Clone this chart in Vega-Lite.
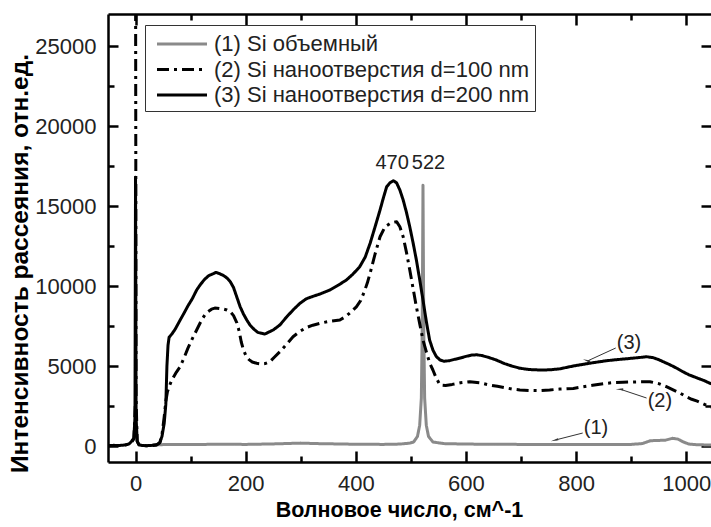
{
  "$schema": "https://vega.github.io/schema/vega-lite/v6.json",
  "width": 603,
  "height": 448,
  "autosize": {"type": "none"},
  "padding": {"left": 108, "top": 14, "right": 0, "bottom": 65},
  "background": "white",
  "config": {"view": {"stroke": null}, "font": "Liberation Sans"},
  "datasets": {
    "spec": [
      {"s": "(1) Si объемный", "seg": "a", "x": 30, "y": 50}, {"s": "(1) Si объемный", "seg": "a", "x": 45, "y": 80}, {"s": "(1) Si объемный", "seg": "a", "x": 60, "y": 100}, {"s": "(1) Si объемный", "seg": "a", "x": 100, "y": 90}, {"s": "(1) Si объемный", "seg": "a", "x": 150, "y": 110}, {"s": "(1) Si объемный", "seg": "a", "x": 200, "y": 100}, {"s": "(1) Si объемный", "seg": "a", "x": 250, "y": 130}, {"s": "(1) Si объемный", "seg": "a", "x": 300, "y": 180}, {"s": "(1) Si объемный", "seg": "a", "x": 330, "y": 150}, {"s": "(1) Si объемный", "seg": "a", "x": 400, "y": 110}, {"s": "(1) Si объемный", "seg": "a", "x": 450, "y": 100}, {"s": "(1) Si объемный", "seg": "a", "x": 480, "y": 120}, {"s": "(1) Si объемный", "seg": "a", "x": 498, "y": 180}, {"s": "(1) Si объемный", "seg": "a", "x": 505, "y": 250}, {"s": "(1) Si объемный", "seg": "a", "x": 512, "y": 600}, {"s": "(1) Si объемный", "seg": "a", "x": 516, "y": 1300}, {"s": "(1) Si объемный", "seg": "a", "x": 519, "y": 3000}, {"s": "(1) Si объемный", "seg": "a", "x": 520.5, "y": 7000}, {"s": "(1) Si объемный", "seg": "a", "x": 521.5, "y": 13000}, {"s": "(1) Si объемный", "seg": "a", "x": 522, "y": 16300}, {"s": "(1) Si объемный", "seg": "a", "x": 522.5, "y": 13000}, {"s": "(1) Si объемный", "seg": "a", "x": 523.5, "y": 7000}, {"s": "(1) Si объемный", "seg": "a", "x": 525, "y": 3000}, {"s": "(1) Si объемный", "seg": "a", "x": 528, "y": 1300}, {"s": "(1) Si объемный", "seg": "a", "x": 532, "y": 600}, {"s": "(1) Si объемный", "seg": "a", "x": 540, "y": 250}, {"s": "(1) Si объемный", "seg": "a", "x": 560, "y": 150}, {"s": "(1) Si объемный", "seg": "a", "x": 600, "y": 120}, {"s": "(1) Si объемный", "seg": "a", "x": 650, "y": 110}, {"s": "(1) Si объемный", "seg": "a", "x": 700, "y": 100}, {"s": "(1) Si объемный", "seg": "a", "x": 750, "y": 90}, {"s": "(1) Si объемный", "seg": "a", "x": 800, "y": 100}, {"s": "(1) Si объемный", "seg": "a", "x": 850, "y": 90}, {"s": "(1) Si объемный", "seg": "a", "x": 900, "y": 100}, {"s": "(1) Si объемный", "seg": "a", "x": 920, "y": 150}, {"s": "(1) Si объемный", "seg": "a", "x": 935, "y": 330}, {"s": "(1) Si объемный", "seg": "a", "x": 950, "y": 350}, {"s": "(1) Si объемный", "seg": "a", "x": 962, "y": 360}, {"s": "(1) Si объемный", "seg": "a", "x": 975, "y": 480}, {"s": "(1) Si объемный", "seg": "a", "x": 985, "y": 430}, {"s": "(1) Si объемный", "seg": "a", "x": 995, "y": 250}, {"s": "(1) Si объемный", "seg": "a", "x": 1005, "y": 120}, {"s": "(1) Si объемный", "seg": "a", "x": 1020, "y": 80}, {"s": "(1) Si объемный", "seg": "a", "x": 1045, "y": 60},

      {"s": "(2) Si наноотверстия d=100 nm", "seg": "a", "x": -50, "y": 20}, {"s": "(2) Si наноотверстия d=100 nm", "seg": "a", "x": -40, "y": 30}, {"s": "(2) Si наноотверстия d=100 nm", "seg": "a", "x": -30, "y": 30}, {"s": "(2) Si наноотверстия d=100 nm", "seg": "a", "x": -20, "y": 50}, {"s": "(2) Si наноотверстия d=100 nm", "seg": "a", "x": -12, "y": 120}, {"s": "(2) Si наноотверстия d=100 nm", "seg": "a", "x": -7, "y": 250}, {"s": "(2) Si наноотверстия d=100 nm", "seg": "a", "x": -3, "y": 450}, {"s": "(2) Si наноотверстия d=100 nm", "seg": "a", "x": -0.5, "y": 2500},
      {"s": "(2) Si наноотверстия d=100 nm", "seg": "b", "x": 0, "y": 32000}, {"s": "(2) Si наноотверстия d=100 nm", "seg": "b", "x": 1, "y": 3000}, {"s": "(2) Si наноотверстия d=100 nm", "seg": "b", "x": 3, "y": 300}, {"s": "(2) Si наноотверстия d=100 nm", "seg": "b", "x": 6, "y": 80}, {"s": "(2) Si наноотверстия d=100 nm", "seg": "b", "x": 12, "y": 30}, {"s": "(2) Si наноотверстия d=100 nm", "seg": "b", "x": 20, "y": 20}, {"s": "(2) Si наноотверстия d=100 nm", "seg": "b", "x": 30, "y": 30}, {"s": "(2) Si наноотверстия d=100 nm", "seg": "b", "x": 38, "y": 60}, {"s": "(2) Si наноотверстия d=100 nm", "seg": "b", "x": 44, "y": 200}, {"s": "(2) Si наноотверстия d=100 nm", "seg": "b", "x": 48, "y": 700}, {"s": "(2) Si наноотверстия d=100 nm", "seg": "b", "x": 52, "y": 1800}, {"s": "(2) Si наноотверстия d=100 nm", "seg": "b", "x": 55, "y": 2800}, {"s": "(2) Si наноотверстия d=100 nm", "seg": "b", "x": 58, "y": 3400}, {"s": "(2) Si наноотверстия d=100 nm", "seg": "b", "x": 62, "y": 3800}, {"s": "(2) Si наноотверстия d=100 nm", "seg": "b", "x": 66, "y": 4125}, {"s": "(2) Si наноотверстия d=100 nm", "seg": "b", "x": 73, "y": 4550}, {"s": "(2) Si наноотверстия d=100 nm", "seg": "b", "x": 81, "y": 4960}, {"s": "(2) Si наноотверстия d=100 nm", "seg": "b", "x": 88, "y": 5500}, {"s": "(2) Si наноотверстия d=100 nm", "seg": "b", "x": 95, "y": 6100}, {"s": "(2) Si наноотверстия d=100 nm", "seg": "b", "x": 103, "y": 6700}, {"s": "(2) Si наноотверстия d=100 nm", "seg": "b", "x": 111, "y": 7250}, {"s": "(2) Si наноотверстия d=100 nm", "seg": "b", "x": 120, "y": 7875}, {"s": "(2) Si наноотверстия d=100 nm", "seg": "b", "x": 126, "y": 8200}, {"s": "(2) Si наноотверстия d=100 nm", "seg": "b", "x": 132, "y": 8400}, {"s": "(2) Si наноотверстия d=100 nm", "seg": "b", "x": 138, "y": 8550}, {"s": "(2) Si наноотверстия d=100 nm", "seg": "b", "x": 144, "y": 8620}, {"s": "(2) Si наноотверстия d=100 nm", "seg": "b", "x": 152, "y": 8600}, {"s": "(2) Si наноотверстия d=100 nm", "seg": "b", "x": 160, "y": 8550}, {"s": "(2) Si наноотверстия d=100 nm", "seg": "b", "x": 166, "y": 8500}, {"s": "(2) Si наноотверстия d=100 nm", "seg": "b", "x": 172, "y": 8400}, {"s": "(2) Si наноотверстия d=100 nm", "seg": "b", "x": 178, "y": 8150}, {"s": "(2) Si наноотверстия d=100 nm", "seg": "b", "x": 184, "y": 7700}, {"s": "(2) Si наноотверстия d=100 nm", "seg": "b", "x": 188, "y": 7200}, {"s": "(2) Si наноотверстия d=100 nm", "seg": "b", "x": 192, "y": 6500}, {"s": "(2) Si наноотверстия d=100 nm", "seg": "b", "x": 196, "y": 6000}, {"s": "(2) Si наноотверстия d=100 nm", "seg": "b", "x": 201, "y": 5600}, {"s": "(2) Si наноотверстия d=100 nm", "seg": "b", "x": 206, "y": 5400}, {"s": "(2) Si наноотверстия d=100 nm", "seg": "b", "x": 212, "y": 5250}, {"s": "(2) Si наноотверстия d=100 nm", "seg": "b", "x": 220, "y": 5170}, {"s": "(2) Si наноотверстия d=100 nm", "seg": "b", "x": 228, "y": 5130}, {"s": "(2) Si наноотверстия d=100 nm", "seg": "b", "x": 235, "y": 5150}, {"s": "(2) Si наноотверстия d=100 nm", "seg": "b", "x": 244, "y": 5270}, {"s": "(2) Si наноотверстия d=100 nm", "seg": "b", "x": 252, "y": 5550}, {"s": "(2) Si наноотверстия d=100 nm", "seg": "b", "x": 262, "y": 5890}, {"s": "(2) Si наноотверстия d=100 nm", "seg": "b", "x": 274, "y": 6350}, {"s": "(2) Si наноотверстия d=100 nm", "seg": "b", "x": 286, "y": 6830}, {"s": "(2) Si наноотверстия d=100 nm", "seg": "b", "x": 298, "y": 7150}, {"s": "(2) Si наноотверстия d=100 nm", "seg": "b", "x": 310, "y": 7400}, {"s": "(2) Si наноотверстия d=100 nm", "seg": "b", "x": 322, "y": 7550}, {"s": "(2) Si наноотверстия d=100 nm", "seg": "b", "x": 335, "y": 7670}, {"s": "(2) Si наноотверстия d=100 nm", "seg": "b", "x": 353, "y": 7800}, {"s": "(2) Si наноотверстия d=100 nm", "seg": "b", "x": 371, "y": 7875}, {"s": "(2) Si наноотверстия d=100 nm", "seg": "b", "x": 382, "y": 8100}, {"s": "(2) Si наноотверстия d=100 nm", "seg": "b", "x": 392, "y": 8400}, {"s": "(2) Si наноотверстия d=100 nm", "seg": "b", "x": 401, "y": 8700}, {"s": "(2) Si наноотверстия d=100 nm", "seg": "b", "x": 409, "y": 9100}, {"s": "(2) Si наноотверстия d=100 nm", "seg": "b", "x": 416, "y": 9700}, {"s": "(2) Si наноотверстия d=100 nm", "seg": "b", "x": 421, "y": 10200}, {"s": "(2) Si наноотверстия d=100 nm", "seg": "b", "x": 426, "y": 10800}, {"s": "(2) Si наноотверстия d=100 nm", "seg": "b", "x": 435, "y": 12000}, {"s": "(2) Si наноотверстия d=100 nm", "seg": "b", "x": 444, "y": 13080}, {"s": "(2) Si наноотверстия d=100 nm", "seg": "b", "x": 453, "y": 13700}, {"s": "(2) Si наноотверстия d=100 nm", "seg": "b", "x": 462, "y": 13900}, {"s": "(2) Si наноотверстия d=100 nm", "seg": "b", "x": 468, "y": 13980}, {"s": "(2) Si наноотверстия d=100 nm", "seg": "b", "x": 474, "y": 14020}, {"s": "(2) Si наноотверстия d=100 nm", "seg": "b", "x": 480, "y": 13700}, {"s": "(2) Si наноотверстия d=100 nm", "seg": "b", "x": 486, "y": 13080}, {"s": "(2) Si наноотверстия d=100 nm", "seg": "b", "x": 492, "y": 12100}, {"s": "(2) Si наноотверстия d=100 nm", "seg": "b", "x": 498, "y": 11000}, {"s": "(2) Si наноотверстия d=100 nm", "seg": "b", "x": 504, "y": 9850}, {"s": "(2) Si наноотверстия d=100 nm", "seg": "b", "x": 510, "y": 8700}, {"s": "(2) Si наноотверстия d=100 nm", "seg": "b", "x": 516, "y": 7650}, {"s": "(2) Si наноотверстия d=100 nm", "seg": "b", "x": 522, "y": 6625}, {"s": "(2) Si наноотверстия d=100 nm", "seg": "b", "x": 528, "y": 5900}, {"s": "(2) Si наноотверстия d=100 nm", "seg": "b", "x": 534, "y": 5200}, {"s": "(2) Si наноотверстия d=100 nm", "seg": "b", "x": 540, "y": 4750}, {"s": "(2) Si наноотверстия d=100 nm", "seg": "b", "x": 546, "y": 4250}, {"s": "(2) Si наноотверстия d=100 nm", "seg": "b", "x": 553, "y": 3810}, {"s": "(2) Si наноотверстия d=100 nm", "seg": "b", "x": 563, "y": 3780}, {"s": "(2) Si наноотверстия d=100 nm", "seg": "b", "x": 575, "y": 3850}, {"s": "(2) Si наноотверстия d=100 nm", "seg": "b", "x": 590, "y": 3950}, {"s": "(2) Si наноотверстия d=100 nm", "seg": "b", "x": 607, "y": 4020}, {"s": "(2) Si наноотверстия d=100 nm", "seg": "b", "x": 625, "y": 3950}, {"s": "(2) Si наноотверстия d=100 nm", "seg": "b", "x": 643, "y": 3810}, {"s": "(2) Si наноотверстия d=100 nm", "seg": "b", "x": 657, "y": 3730}, {"s": "(2) Si наноотверстия d=100 nm", "seg": "b", "x": 670, "y": 3650}, {"s": "(2) Si наноотверстия d=100 nm", "seg": "b", "x": 684, "y": 3560}, {"s": "(2) Si наноотверстия d=100 nm", "seg": "b", "x": 698, "y": 3500}, {"s": "(2) Si наноотверстия d=100 nm", "seg": "b", "x": 715, "y": 3470}, {"s": "(2) Si наноотверстия d=100 nm", "seg": "b", "x": 734, "y": 3460}, {"s": "(2) Si наноотверстия d=100 nm", "seg": "b", "x": 752, "y": 3500}, {"s": "(2) Si наноотверстия d=100 nm", "seg": "b", "x": 770, "y": 3560}, {"s": "(2) Si наноотверстия d=100 nm", "seg": "b", "x": 795, "y": 3600}, {"s": "(2) Si наноотверстия d=100 nm", "seg": "b", "x": 812, "y": 3700}, {"s": "(2) Si наноотверстия d=100 nm", "seg": "b", "x": 830, "y": 3800}, {"s": "(2) Si наноотверстия d=100 nm", "seg": "b", "x": 850, "y": 3900}, {"s": "(2) Si наноотверстия d=100 nm", "seg": "b", "x": 867, "y": 3960}, {"s": "(2) Si наноотверстия d=100 nm", "seg": "b", "x": 885, "y": 3980}, {"s": "(2) Si наноотверстия d=100 nm", "seg": "b", "x": 900, "y": 4000}, {"s": "(2) Si наноотверстия d=100 nm", "seg": "b", "x": 918, "y": 4010}, {"s": "(2) Si наноотверстия d=100 nm", "seg": "b", "x": 934, "y": 4020}, {"s": "(2) Si наноотверстия d=100 nm", "seg": "b", "x": 950, "y": 3900}, {"s": "(2) Si наноотверстия d=100 nm", "seg": "b", "x": 964, "y": 3710}, {"s": "(2) Si наноотверстия d=100 nm", "seg": "b", "x": 980, "y": 3450}, {"s": "(2) Si наноотверстия d=100 nm", "seg": "b", "x": 990, "y": 3280}, {"s": "(2) Si наноотверстия d=100 nm", "seg": "b", "x": 1000, "y": 3080}, {"s": "(2) Si наноотверстия d=100 nm", "seg": "b", "x": 1010, "y": 2920}, {"s": "(2) Si наноотверстия d=100 nm", "seg": "b", "x": 1020, "y": 2800}, {"s": "(2) Si наноотверстия d=100 nm", "seg": "b", "x": 1032, "y": 2620}, {"s": "(2) Si наноотверстия d=100 nm", "seg": "b", "x": 1043, "y": 2460}, {"s": "(2) Si наноотверстия d=100 nm", "seg": "b", "x": 1050, "y": 2400},

      {"s": "(3) Si наноотверстия d=200 nm", "seg": "a", "x": -50, "y": 30}, {"s": "(3) Si наноотверстия d=200 nm", "seg": "a", "x": -40, "y": 40}, {"s": "(3) Si наноотверстия d=200 nm", "seg": "a", "x": -30, "y": 30}, {"s": "(3) Si наноотверстия d=200 nm", "seg": "a", "x": -20, "y": 60}, {"s": "(3) Si наноотверстия d=200 nm", "seg": "a", "x": -12, "y": 120}, {"s": "(3) Si наноотверстия d=200 nm", "seg": "a", "x": -7, "y": 300}, {"s": "(3) Si наноотверстия d=200 nm", "seg": "a", "x": -3, "y": 500}, {"s": "(3) Si наноотверстия d=200 nm", "seg": "a", "x": -1, "y": 1800}, {"s": "(3) Si наноотверстия d=200 nm", "seg": "a", "x": 0, "y": 16800}, {"s": "(3) Si наноотверстия d=200 nm", "seg": "a", "x": 1, "y": 1800}, {"s": "(3) Si наноотверстия d=200 nm", "seg": "a", "x": 3, "y": 300}, {"s": "(3) Si наноотверстия d=200 nm", "seg": "a", "x": 6, "y": 80}, {"s": "(3) Si наноотверстия d=200 nm", "seg": "a", "x": 12, "y": 30}, {"s": "(3) Si наноотверстия d=200 nm", "seg": "a", "x": 20, "y": 20}, {"s": "(3) Si наноотверстия d=200 nm", "seg": "a", "x": 30, "y": 40}, {"s": "(3) Si наноотверстия d=200 nm", "seg": "a", "x": 38, "y": 80}, {"s": "(3) Si наноотверстия d=200 nm", "seg": "a", "x": 44, "y": 200}, {"s": "(3) Si наноотверстия d=200 nm", "seg": "a", "x": 48, "y": 600}, {"s": "(3) Si наноотверстия d=200 nm", "seg": "a", "x": 52, "y": 1400}, {"s": "(3) Si наноотверстия d=200 nm", "seg": "a", "x": 55, "y": 2600}, {"s": "(3) Si наноотверстия d=200 nm", "seg": "a", "x": 57, "y": 5000}, {"s": "(3) Si наноотверстия d=200 nm", "seg": "a", "x": 59, "y": 6300}, {"s": "(3) Si наноотверстия d=200 nm", "seg": "a", "x": 61, "y": 6800}, {"s": "(3) Si наноотверстия d=200 nm", "seg": "a", "x": 66, "y": 7000}, {"s": "(3) Si наноотверстия d=200 nm", "seg": "a", "x": 72, "y": 7300}, {"s": "(3) Si наноотверстия d=200 nm", "seg": "a", "x": 81, "y": 7870}, {"s": "(3) Si наноотверстия d=200 nm", "seg": "a", "x": 88, "y": 8300}, {"s": "(3) Si наноотверстия d=200 nm", "seg": "a", "x": 95, "y": 8750}, {"s": "(3) Si наноотверстия d=200 nm", "seg": "a", "x": 103, "y": 9200}, {"s": "(3) Si наноотверстия d=200 nm", "seg": "a", "x": 111, "y": 9750}, {"s": "(3) Si наноотверстия d=200 nm", "seg": "a", "x": 118, "y": 10100}, {"s": "(3) Si наноотверстия d=200 nm", "seg": "a", "x": 125, "y": 10400}, {"s": "(3) Si наноотверстия d=200 nm", "seg": "a", "x": 133, "y": 10650}, {"s": "(3) Si наноотверстия d=200 nm", "seg": "a", "x": 140, "y": 10750}, {"s": "(3) Si наноотверстия d=200 nm", "seg": "a", "x": 146, "y": 10850}, {"s": "(3) Si наноотверстия d=200 nm", "seg": "a", "x": 152, "y": 10780}, {"s": "(3) Si наноотверстия d=200 nm", "seg": "a", "x": 160, "y": 10650}, {"s": "(3) Si наноотверстия d=200 nm", "seg": "a", "x": 166, "y": 10500}, {"s": "(3) Si наноотверстия d=200 nm", "seg": "a", "x": 172, "y": 10270}, {"s": "(3) Si наноотверстия d=200 nm", "seg": "a", "x": 178, "y": 9900}, {"s": "(3) Si наноотверстия d=200 nm", "seg": "a", "x": 184, "y": 9300}, {"s": "(3) Si наноотверстия d=200 nm", "seg": "a", "x": 190, "y": 8700}, {"s": "(3) Si наноотверстия d=200 nm", "seg": "a", "x": 196, "y": 8250}, {"s": "(3) Si наноотверстия d=200 nm", "seg": "a", "x": 202, "y": 7875}, {"s": "(3) Si наноотверстия d=200 nm", "seg": "a", "x": 208, "y": 7550}, {"s": "(3) Si наноотверстия d=200 nm", "seg": "a", "x": 215, "y": 7300}, {"s": "(3) Si наноотверстия d=200 nm", "seg": "a", "x": 222, "y": 7100}, {"s": "(3) Si наноотверстия d=200 nm", "seg": "a", "x": 228, "y": 7050}, {"s": "(3) Si наноотверстия d=200 nm", "seg": "a", "x": 235, "y": 7000}, {"s": "(3) Si наноотверстия d=200 nm", "seg": "a", "x": 242, "y": 7120}, {"s": "(3) Si наноотверстия d=200 nm", "seg": "a", "x": 250, "y": 7250}, {"s": "(3) Si наноотверстия d=200 nm", "seg": "a", "x": 262, "y": 7560}, {"s": "(3) Si наноотверстия d=200 nm", "seg": "a", "x": 274, "y": 8050}, {"s": "(3) Si наноотверстия d=200 nm", "seg": "a", "x": 286, "y": 8500}, {"s": "(3) Si наноотверстия d=200 nm", "seg": "a", "x": 298, "y": 8900}, {"s": "(3) Si наноотверстия d=200 nm", "seg": "a", "x": 310, "y": 9200}, {"s": "(3) Si наноотверстия d=200 nm", "seg": "a", "x": 322, "y": 9350}, {"s": "(3) Si наноотверстия d=200 nm", "seg": "a", "x": 335, "y": 9500}, {"s": "(3) Si наноотверстия d=200 nm", "seg": "a", "x": 353, "y": 9750}, {"s": "(3) Si наноотверстия d=200 nm", "seg": "a", "x": 368, "y": 10050}, {"s": "(3) Si наноотверстия d=200 nm", "seg": "a", "x": 383, "y": 10375}, {"s": "(3) Si наноотверстия d=200 nm", "seg": "a", "x": 395, "y": 10750}, {"s": "(3) Si наноотверстия d=200 nm", "seg": "a", "x": 407, "y": 11200}, {"s": "(3) Si наноотверстия d=200 nm", "seg": "a", "x": 417, "y": 11800}, {"s": "(3) Si наноотверстия d=200 nm", "seg": "a", "x": 426, "y": 12670}, {"s": "(3) Si наноотверстия d=200 nm", "seg": "a", "x": 435, "y": 13700}, {"s": "(3) Si наноотверстия d=200 nm", "seg": "a", "x": 444, "y": 14750}, {"s": "(3) Si наноотверстия d=200 nm", "seg": "a", "x": 450, "y": 15500}, {"s": "(3) Si наноотверстия d=200 nm", "seg": "a", "x": 456, "y": 16200}, {"s": "(3) Si наноотверстия d=200 nm", "seg": "a", "x": 462, "y": 16450}, {"s": "(3) Si наноотверстия d=200 nm", "seg": "a", "x": 468, "y": 16580}, {"s": "(3) Si наноотверстия d=200 nm", "seg": "a", "x": 474, "y": 16450}, {"s": "(3) Si наноотверстия d=200 nm", "seg": "a", "x": 480, "y": 16000}, {"s": "(3) Si наноотверстия d=200 nm", "seg": "a", "x": 486, "y": 15375}, {"s": "(3) Si наноотверстия d=200 nm", "seg": "a", "x": 492, "y": 14600}, {"s": "(3) Si наноотверстия d=200 nm", "seg": "a", "x": 498, "y": 13700}, {"s": "(3) Si наноотверстия d=200 nm", "seg": "a", "x": 504, "y": 12700}, {"s": "(3) Si наноотверстия d=200 nm", "seg": "a", "x": 510, "y": 11625}, {"s": "(3) Si наноотверстия d=200 nm", "seg": "a", "x": 516, "y": 10400}, {"s": "(3) Si наноотверстия d=200 nm", "seg": "a", "x": 522, "y": 9125}, {"s": "(3) Si наноотверстия d=200 nm", "seg": "a", "x": 528, "y": 7800}, {"s": "(3) Si наноотверстия d=200 nm", "seg": "a", "x": 534, "y": 6625}, {"s": "(3) Si наноотверстия d=200 nm", "seg": "a", "x": 540, "y": 6000}, {"s": "(3) Si наноотверстия d=200 nm", "seg": "a", "x": 546, "y": 5600}, {"s": "(3) Si наноотверстия d=200 nm", "seg": "a", "x": 553, "y": 5375}, {"s": "(3) Si наноотверстия d=200 nm", "seg": "a", "x": 560, "y": 5300}, {"s": "(3) Si наноотверстия d=200 nm", "seg": "a", "x": 570, "y": 5330}, {"s": "(3) Si наноотверстия d=200 nm", "seg": "a", "x": 580, "y": 5420}, {"s": "(3) Si наноотверстия d=200 nm", "seg": "a", "x": 590, "y": 5500}, {"s": "(3) Si наноотверстия d=200 nm", "seg": "a", "x": 600, "y": 5600}, {"s": "(3) Si наноотверстия d=200 nm", "seg": "a", "x": 610, "y": 5680}, {"s": "(3) Si наноотверстия d=200 nm", "seg": "a", "x": 619, "y": 5700}, {"s": "(3) Si наноотверстия d=200 nm", "seg": "a", "x": 628, "y": 5660}, {"s": "(3) Si наноотверстия d=200 nm", "seg": "a", "x": 640, "y": 5550}, {"s": "(3) Si наноотверстия d=200 nm", "seg": "a", "x": 655, "y": 5375}, {"s": "(3) Si наноотверстия d=200 nm", "seg": "a", "x": 670, "y": 5150}, {"s": "(3) Si наноотверстия d=200 nm", "seg": "a", "x": 685, "y": 4980}, {"s": "(3) Si наноотверстия d=200 nm", "seg": "a", "x": 698, "y": 4860}, {"s": "(3) Si наноотверстия d=200 nm", "seg": "a", "x": 715, "y": 4780}, {"s": "(3) Si наноотверстия d=200 nm", "seg": "a", "x": 734, "y": 4750}, {"s": "(3) Si наноотверстия d=200 nm", "seg": "a", "x": 752, "y": 4760}, {"s": "(3) Si наноотверстия d=200 nm", "seg": "a", "x": 770, "y": 4820}, {"s": "(3) Si наноотверстия d=200 nm", "seg": "a", "x": 795, "y": 5000}, {"s": "(3) Si наноотверстия d=200 nm", "seg": "a", "x": 812, "y": 5100}, {"s": "(3) Si наноотверстия d=200 nm", "seg": "a", "x": 830, "y": 5200}, {"s": "(3) Si наноотверстия d=200 nm", "seg": "a", "x": 855, "y": 5330}, {"s": "(3) Si наноотверстия d=200 nm", "seg": "a", "x": 875, "y": 5400}, {"s": "(3) Si наноотверстия d=200 nm", "seg": "a", "x": 900, "y": 5480}, {"s": "(3) Si наноотверстия d=200 nm", "seg": "a", "x": 915, "y": 5530}, {"s": "(3) Si наноотверстия d=200 nm", "seg": "a", "x": 928, "y": 5580}, {"s": "(3) Si наноотверстия d=200 nm", "seg": "a", "x": 940, "y": 5520}, {"s": "(3) Si наноотверстия d=200 nm", "seg": "a", "x": 950, "y": 5400}, {"s": "(3) Si наноотверстия d=200 nm", "seg": "a", "x": 958, "y": 5270}, {"s": "(3) Si наноотверстия d=200 nm", "seg": "a", "x": 966, "y": 5150}, {"s": "(3) Si наноотверстия d=200 nm", "seg": "a", "x": 975, "y": 5000}, {"s": "(3) Si наноотверстия d=200 nm", "seg": "a", "x": 985, "y": 4820}, {"s": "(3) Si наноотверстия d=200 nm", "seg": "a", "x": 994, "y": 4640}, {"s": "(3) Si наноотверстия d=200 nm", "seg": "a", "x": 1005, "y": 4450}, {"s": "(3) Si наноотверстия d=200 nm", "seg": "a", "x": 1020, "y": 4250}, {"s": "(3) Si наноотверстия d=200 nm", "seg": "a", "x": 1033, "y": 4080}, {"s": "(3) Si наноотверстия d=200 nm", "seg": "a", "x": 1043, "y": 3920}, {"s": "(3) Si наноотверстия d=200 nm", "seg": "a", "x": 1050, "y": 3850}
    ],
    "peaks": [
      {"label": "470", "x": 466, "y": 17700},
      {"label": "522", "x": 532, "y": 17700}
    ],
    "arrows": [
      {"id": "1", "label": "(1)", "x": 812, "y": 810, "x2": 763, "y2": 380, "tx": 814, "ty": 1125},
      {"id": "2", "label": "(2)", "x": 928, "y": 3000, "x2": 881, "y2": 3540, "tx": 930, "ty": 2810},
      {"id": "3", "label": "(3)", "x": 872, "y": 6125, "x2": 821, "y2": 5320, "tx": 874, "ty": 6440}
    ]
  },
  "layer": [
    {
      "data": {"name": "spec"},
      "mark": {"type": "line", "clip": true, "strokeWidth": 3, "strokeCap": "butt", "strokeJoin": "round"},
      "encoding": {
        "x": {
          "field": "x", "type": "quantitative",
          "scale": {"domain": [-50, 1045], "nice": false, "zero": false},
          "axis": {
            "orient": "bottom",
            "values": [0, 100, 200, 300, 400, 500, 600, 700, 800, 900, 1000],
            "labelExpr": "datum.value % 200 === 0 ? datum.label : ''",
            "format": "d",
            "tickSize": {"condition": {"test": "datum.value % 200 === 0", "value": -11}, "value": -6},
            "tickWidth": 2.5, "tickColor": "black",
            "domainWidth": 2.5, "domainColor": "black",
            "grid": false,
            "labelFont": "Liberation Sans", "labelFontSize": 22, "labelColor": "#222222",
            "labelPadding": 22,
            "title": "Волновое число, см^-1",
            "titleFont": "Liberation Sans", "titleFontSize": 21.5, "titleFontWeight": "bold", "titleColor": "black",
            "titleX": 291, "titleY": 48, "titleBaseline": "middle", "titleAlign": "center"
          }
        },
        "y": {
          "field": "y", "type": "quantitative",
          "scale": {"domain": [-1000, 27000], "nice": false, "zero": false},
          "axis": {
            "orient": "left",
            "values": [0, 2500, 5000, 7500, 10000, 12500, 15000, 17500, 20000, 22500, 25000],
            "labelExpr": "datum.value % 5000 === 0 ? datum.label : ''",
            "format": "d",
            "tickSize": {"condition": {"test": "datum.value % 5000 === 0", "value": -10}, "value": -6},
            "tickWidth": 2.5, "tickColor": "black",
            "domainWidth": 2.5, "domainColor": "black",
            "grid": false,
            "labelFont": "Liberation Sans", "labelFontSize": 22, "labelColor": "#222222",
            "labelPadding": 22,
            "title": "Интенсивность рассеяния, отн.ед.",
            "titleFont": "Liberation Sans", "titleFontSize": 24.5, "titleFontWeight": "bold", "titleColor": "black",
            "titleX": -88, "titleY": 249, "titleBaseline": "middle", "titleAlign": "center", "titleAngle": -90
          }
        },
        "detail": {"field": "seg"},
        "color": {
          "field": "s", "type": "nominal",
          "scale": {"domain": ["(1) Si объемный", "(2) Si наноотверстия d=100 nm", "(3) Si наноотверстия d=200 nm"], "range": ["#8a8a8a", "#000000", "#000000"]},
          "legend": {
            "orient": "none", "legendX": 37, "legendY": 11, "title": null,
            "symbolType": "M-2,0L2,0", "symbolSize": 625, "symbolStrokeWidth": 3, "symbolOffset": 18,
            "labelFont": "Liberation Sans", "labelFontSize": 22, "labelColor": "#222222", "labelOffset": 18, "labelLimit": 600,
            "strokeColor": "#333333", "fillColor": "white", "padding": 5, "rowPadding": 0.5
          }
        },
        "strokeDash": {
          "field": "s", "type": "nominal",
          "scale": {"domain": ["(1) Si объемный", "(2) Si наноотверстия d=100 nm", "(3) Si наноотверстия d=200 nm"], "range": [[1, 0], [12, 5, 3, 5], [1, 0]]},
          "legend": {
            "orient": "none", "legendX": 37, "legendY": 11, "title": null,
            "symbolType": "M-2,0L2,0", "symbolSize": 625, "symbolStrokeWidth": 3, "symbolOffset": 18,
            "labelFont": "Liberation Sans", "labelFontSize": 22, "labelColor": "#222222", "labelOffset": 18, "labelLimit": 600,
            "strokeColor": "#333333", "fillColor": "white", "padding": 5, "rowPadding": 0.5
          }
        }
      }
    },
    {
      "data": {"name": "spec"},
      "mark": {"type": "point", "opacity": 0},
      "encoding": {
        "x": {
          "field": "x", "type": "quantitative",
          "axis": {
            "orient": "top",
            "values": [0, 100, 200, 300, 400, 500, 600, 700, 800, 900, 1000],
            "labels": false, "title": null, "grid": false,
            "tickSize": {"condition": {"test": "datum.value % 200 === 0", "value": -11}, "value": -6},
            "tickWidth": 2.5, "tickColor": "black",
            "domainWidth": 2.5, "domainColor": "black"
          }
        },
        "y": {
          "field": "y", "type": "quantitative",
          "axis": {
            "orient": "right",
            "values": [0, 2500, 5000, 7500, 10000, 12500, 15000, 17500, 20000, 22500, 25000],
            "labels": false, "title": null, "grid": false, "domain": false,
            "tickSize": {"condition": {"test": "datum.value % 5000 === 0", "value": -10}, "value": -6},
            "tickWidth": 2.5, "tickColor": "black"
          }
        }
      }
    },
    {
      "data": {"name": "peaks"},
      "mark": {"type": "text", "font": "Liberation Sans", "fontSize": 20, "color": "#222222", "baseline": "middle", "align": "center"},
      "encoding": {
        "x": {"field": "x", "type": "quantitative", "axis": null},
        "y": {"field": "y", "type": "quantitative", "axis": null},
        "text": {"field": "label"}
      }
    },
    {
      "data": {"name": "arrows"},
      "mark": {"type": "rule", "color": "#333333", "strokeWidth": 1},
      "encoding": {
        "x": {"field": "x", "type": "quantitative", "axis": null},
        "y": {"field": "y", "type": "quantitative", "axis": null},
        "x2": {"field": "x2"},
        "y2": {"field": "y2"}
      }
    },
    {
      "data": {"name": "arrows"},
      "mark": {"type": "point", "shape": "wedge", "filled": true, "color": "#333333", "size": 75, "opacity": 1},
      "encoding": {
        "x": {"field": "x2", "type": "quantitative", "axis": null},
        "y": {"field": "y2", "type": "quantitative", "axis": null},
        "angle": {"field": "id", "type": "nominal", "scale": {"domain": ["1", "2", "3"], "range": [256, 288, 246]}, "legend": null}
      }
    },
    {
      "data": {"name": "arrows"},
      "mark": {"type": "text", "font": "Liberation Sans", "fontSize": 20, "color": "#222222", "baseline": "middle", "align": "left"},
      "encoding": {
        "x": {"field": "tx", "type": "quantitative", "axis": null},
        "y": {"field": "ty", "type": "quantitative", "axis": null},
        "text": {"field": "label"}
      }
    }
  ],
  "resolve": {"axis": {"x": "independent", "y": "independent"}}
}
